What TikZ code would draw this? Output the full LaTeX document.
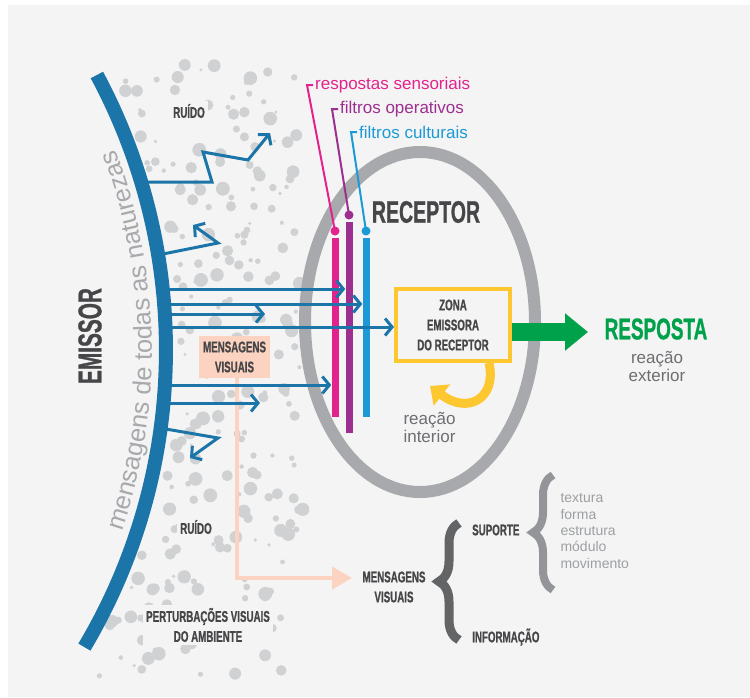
\documentclass[tikz,border=0pt]{standalone}
\usepackage{fontspec}
\setmainfont{Liberation Sans}
\newfontfamily\cond[FakeStretch=0.63, BoldFeatures={FakeBold=0.8}]{Liberation Sans}
\usetikzlibrary{positioning, calc, arrows.meta, decorations.text, decorations.pathreplacing}

\definecolor{eblue}{HTML}{1B75A8}
\definecolor{rsmag}{HTML}{E3238D}
\definecolor{fopur}{HTML}{9C2F8F}
\definecolor{fccya}{HTML}{1C9AD6}
\definecolor{rgray}{HTML}{A7A9AC}
\definecolor{zyel}{HTML}{FDC72F}
\definecolor{rgreen}{HTML}{00A14B}
\definecolor{salm}{HTML}{FBD3C0}
\definecolor{dtext}{HTML}{464648}
\definecolor{ltext}{HTML}{9D9FA2}
\definecolor{mtext}{HTML}{6D6E71}
\definecolor{dotgray}{HTML}{D0D1D3}
\definecolor{bggray}{HTML}{F4F4F4}
\definecolor{bgray}{HTML}{636466}
\definecolor{sgray}{HTML}{939598}

\begin{document}
\begin{tikzpicture}[x=1pt, y=-1pt,
  msg/.style={draw=eblue, line width=3pt, -{Straight Barb[length=7pt,width=17pt]}},
  lbl/.style={font=\cond\bfseries\fontsize{15.5}{20}\selectfont, text=dtext, align=center, inner sep=1pt},
  noise/.style={lbl, fill=bggray, inner sep=3pt},
  big/.style={font=\cond\bfseries\fontsize{31}{31}\selectfont, text=dtext, inner sep=0pt},
  filt/.style={font=\fontsize{17}{17}\selectfont, anchor=west, inner sep=2pt},
  soft/.style={font=\fontsize{17}{18}\selectfont, text=mtext},
  bar/.style={rectangle, fill=#1, minimum width=7pt, inner sep=0pt},
  fdot/.style={circle, fill=#1, minimum size=9pt, inner sep=0pt},
  lead/.style={draw=#1, line width=2pt}]

  \useasboundingbox (0,0) rectangle (750,697);
  \fill[white] (0,0) rectangle (750,697);
  \fill[bggray] (8,5) rectangle (750,697);

  \pgfmathsetseed{4242}
  \foreach \i in {1,...,240}{
    \pgfmathsetmacro\yy{62+615*rnd}
    \pgfmathsetmacro\xa{-404+100*sqrt(5.82*5.82-((\yy-350)/100)^2)}
    \pgfmathsetmacro\xb{\yy<540 ? 304 : 284}
    \pgfmathsetmacro\xx{\xa+(\xb-\xa)*rnd}
    \pgfmathsetmacro\rr{1.5+5.5*rnd}
    \fill[dotgray] (\xx,\yy) circle[radius=\rr];
  }

  \coordinate (o) at (-416,350);
  \draw[eblue, line width=14pt] (o) ++(-28.2:582) arc[start angle=-28.2, end angle=30.7, radius=582];
  \path[decorate, decoration={text along path, text align=center, text color=rgray,
    text={|\fontsize{25.5}{26}\selectfont|mensagens de todas as naturezas}}]
    (o) ++(20.5:568) arc[start angle=20.5, end angle=-22.5, radius=568];
  \node[big, rotate=90, font=\cond\bfseries\fontsize{33}{33}\selectfont] (em) at (90,336) {EMISSOR};

  \node[noise] (r1) at (189,111) {RUÍDO};
  \node[noise] (r2) at (196,527) {RUÍDO};
  \node[noise] (pv) at (208,625) {PERTURBAÇÕES VISUAIS\\DO AMBIENTE};

  \draw[rgray, line width=12pt] (420,322) ellipse[x radius=115, y radius=170];
  \node[big] (rc) at (426,212) {RECEPTOR};

  \node[bar=rsmag, minimum height=179pt] (rs) at (335,327.5) {};
  \node[bar=fopur, minimum height=211pt] (fo) at (349,327.5) {};
  \node[bar=fccya, minimum height=179pt] (fc) at (366,327.5) {};
  \node[fdot=rsmag] (rsd) at (335,231) {};
  \node[fdot=fopur] (fod) at (349,215) {};
  \node[fdot=fccya] (fcd) at (366,231) {};
  \node[filt, text=rsmag] (rst) at (313,85) {respostas sensoriais};
  \node[filt, text=fopur] (fot) at (338,109) {filtros operativos};
  \node[filt, text=fccya] (fct) at (357,132) {filtros culturais};
  \draw[lead=rsmag] (rsd.center) -- ([xshift=-6pt]rst.west) -- (rst.west);
  \draw[lead=fopur] (fod.center) -- ([xshift=-6pt]fot.west) -- (fot.west);
  \draw[lead=fccya] (fcd.center) -- ([xshift=-6pt]fct.west) -- (fct.west);

  \node[lbl, draw=zyel, line width=4pt, fill=bggray, minimum width=114pt, minimum height=72pt] (zo) at (453,325) {ZONA\\EMISSORA\\DO RECEPTOR};
  \coordinate (rt) at (588,332);
  \draw[rgreen, line width=18pt, -{Triangle[length=23pt,width=36pt]}] (zo.east |- rt) -- (rt);
  \node[big, text=rgreen, font=\cond\bfseries\fontsize{30}{30}\selectfont] (resp) at (656,329) {RESPOSTA};
  \node[soft, align=center] (rex) at (657,366) {reação\\exterior};
  \coordinate (yc) at (430,386);
  \draw[zyel, line width=9pt, -{Triangle[length=15pt,width=26pt]}] ([xshift=36pt]zo.south) .. controls (497,398) and (468,415) .. (yc);
  \node[soft, align=left, anchor=west] (rin) at (400,427) {reação\\interior};

  \node[lbl, fill=salm, minimum width=71pt, minimum height=42pt] (mv) at (234.5,357) {MENSAGENS\\VISUAIS};
  \node[lbl] (mv2) at (394,587) {MENSAGENS\\VISUAIS};
  \coordinate (mvt) at (352,578);
  \draw[salm, line width=4pt, -{Triangle[length=20pt,width=22pt]}] ([xshift=2pt]mv.south) |- (mvt);

  \coordinate (a1) at (141,182); \coordinate (t1) at (270,133);
  \draw[msg] (a1) -- (212,182) -- (203,152) -- (248,160) -- (t1);
  \coordinate (a2) at (158,255); \coordinate (t2) at (193,225);
  \draw[msg] (a2) -- (218,243) -- (t2);
  \coordinate (a3) at (163,289);
  \draw[msg] (a3) -- (a3 -| fo.west);
  \coordinate (a4) at (164,304);
  \draw[msg] (a4) -- (a4 -| fc.west);
  \coordinate (a5) at (165,314); \coordinate (t5) at (265,314);
  \draw[msg] (a5) -- (t5);
  \coordinate (a6) at (165,327);
  \draw[msg] (a6) -- (a6 -| zo.west);
  \coordinate (a7) at (165,385);
  \draw[msg] (a7) -- (a7 -| rs.west);
  \coordinate (a8) at (163,403); \coordinate (t8) at (260,403);
  \draw[msg] (a8) -- (t8);
  \coordinate (a9) at (160,428); \coordinate (t9) at (190,458);
  \draw[msg] (a9) -- (218,438) -- (t9);

  \draw[bgray, line width=9pt, decorate, decoration={brace, amplitude=20pt}] (459,640) -- (459,523);
  \draw[sgray, line width=8pt, decorate, decoration={brace, amplitude=20pt}] (553,590) -- (553,475);
  \node[lbl, anchor=west] (sup) at (471,530) {SUPORTE};
  \node[lbl, anchor=west] (inf) at (471,637) {INFORMAÇÃO};
  \node[font=\fontsize{14}{16.3}\selectfont, text=ltext, align=left, anchor=west] (lst) at (557,531) {textura\\forma\\estrutura\\módulo\\movimento};
\end{tikzpicture}
\end{document}
